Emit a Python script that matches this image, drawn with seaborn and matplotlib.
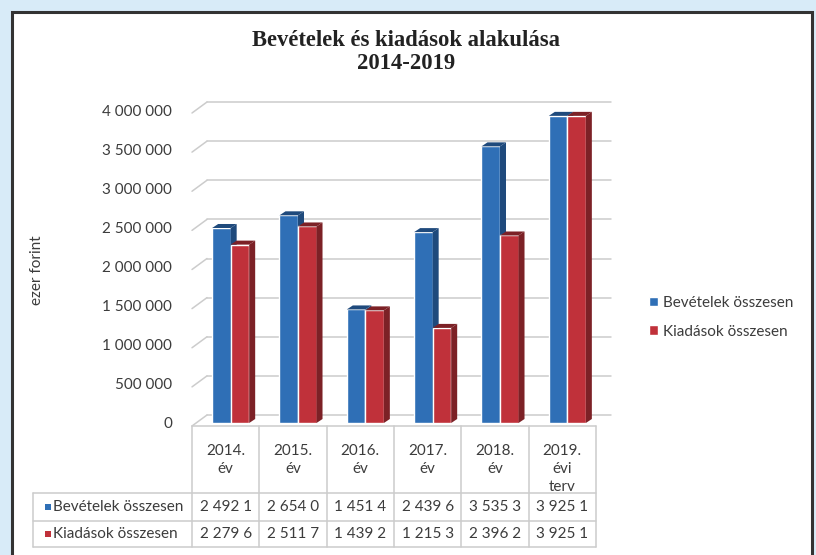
import seaborn as sns
import matplotlib.pyplot as plt
import matplotlib.transforms as mtransforms
from matplotlib.lines import Line2D
from matplotlib.patches import Rectangle, Polygon
import numpy as np
import pandas as pd

# adatok (ezer forint)
years = ["2014.\név", "2015.\név", "2016.\név", "2017.\név", "2018.\név", "2019.\névi\nterv"]
series = ["Bevételek összesen", "Kiadások összesen"]
bevetelek = [2492100, 2654000, 1451400, 2439600, 3535300, 3925100]
kiadasok = [2279600, 2511700, 1439200, 1215300, 2396200, 3925100]
yticks = [0, 500000, 1000000, 1500000, 2000000, 2500000, 3000000, 3500000, 4000000]

colors = ["#2f6fb6", "#c0313a"]
side_colors = ["#1f4a7c", "#7c2126"]
grid_c = "#cccccc"
text_c = "#3c3c3c"

df = pd.DataFrame({
    "ev": years * 2,
    "sorozat": [series[0]] * 6 + [series[1]] * 6,
    "ertek": bevetelek + kiadasok,
})

sns.set_theme(style="white")
plt.rcParams["font.family"] = ["Lato", "DejaVu Sans"]

W, H = 816, 555
fig = plt.figure(figsize=(W / 100, H / 100), dpi=100, facecolor="#d8ebf8")
ident = mtransforms.IdentityTransform()

# fehér keret
fig.add_artist(Rectangle((11.5 / W, -20 / H), 800 / W, (H - 11.5 + 20) / H,
                         transform=fig.transFigure, facecolor="white",
                         edgecolor="#333333", lw=2.2, zorder=0))

ax = fig.add_axes([197 / W, (H - 423) / H, 404 / W, 313 / H])
ax.set_facecolor("none")
sns.barplot(data=df, x="ev", y="ertek", hue="sorozat", palette=colors,
            width=0.55, saturation=1, ax=ax, zorder=2)
ax.set_xlim(-0.5, 5.5)
ax.set_ylim(0, 4000000)
ax.set_yticks(yticks)
ax.set_yticklabels([f"{v:,}".replace(",", " ") for v in yticks], fontsize=11, color=text_c)
ax.tick_params(axis="y", length=0, pad=18)
ax.set_xticks([])
ax.set_xlabel("")
ax.set_ylabel("")
sns.despine(ax=ax, left=True, bottom=True)
fig.canvas.draw()

back = ax.transData + mtransforms.Affine2D().translate(10, 8)
front_off = np.array([-5, -3])
back_off = np.array([10, 8])

# hátfal rácsvonalak + oldalfal átlók
for v in yticks:
    ax.plot([-0.5, 5.5], [v, v], transform=back, color=grid_c, lw=1.1,
            clip_on=False, zorder=0)
    p = ax.transData.transform((-0.5, v))
    a, b = p + front_off, p + back_off
    fig.add_artist(Line2D([a[0], b[0]], [a[1], b[1]], transform=ident,
                          color=grid_c, lw=1.1, zorder=1))

# 3D oszlop oldal és tető
dx, dy = 6, 4
n = len(years)
for i, patch in enumerate(ax.patches[:2 * n]):
    s = i // n
    patch.set_zorder(2 + 2 * s)
    x0, w, h = patch.get_x(), patch.get_width(), patch.get_height()
    bl = ax.transData.transform((x0, 0))
    tr = ax.transData.transform((x0 + w, h))
    side = [(tr[0], bl[1]), (tr[0], tr[1]), (tr[0] + dx, tr[1] + dy), (tr[0] + dx, bl[1] + dy)]
    top = [(bl[0], tr[1]), (tr[0], tr[1]), (tr[0] + dx, tr[1] + dy), (bl[0] + dx, tr[1] + dy)]
    for poly in (side, top):
        ax.add_artist(Polygon(poly, closed=True, transform=ident, facecolor=side_colors[s],
                              edgecolor="none", zorder=2.5 + 2 * s, clip_on=False))

# jelmagyarázat
sns.move_legend(ax, "upper left", bbox_to_anchor=(649 / W, 1 - 296 / H),
                bbox_transform=fig.transFigure, frameon=False, title=None,
                fontsize=11, handlelength=0.6, handleheight=0.6,
                handletextpad=0.3, labelspacing=0.95, borderpad=0, borderaxespad=0)
for t in ax.get_legend().get_texts():
    t.set_color(text_c)

# adattábla
edges = [ax.transData.transform((k - 0.5, 0))[0] + front_off[0] for k in range(n + 1)]
y_top, y_h, y_r1, y_r2 = 426, 493, 521, 547
left = 33

def hline(x0, x1, y):
    fig.add_artist(Line2D([x0, x1], [H - y, H - y], transform=ident, color=grid_c, lw=1.1))

def vline(x, y0, y1):
    fig.add_artist(Line2D([x, x], [H - y0, H - y1], transform=ident, color=grid_c, lw=1.1))

hline(edges[0], edges[-1], y_top)
for y in (y_h, y_r1, y_r2):
    hline(left, edges[-1], y)
for x in edges:
    vline(x, y_top, y_r2)
vline(left, y_h, y_r2)

for k, lab in enumerate(years):
    xc = (edges[k] + edges[k + 1]) / 2
    fig.text(xc / W, 1 - 444 / H, lab, ha="center", va="top", fontsize=11,
             color=text_c, linespacing=1.35)

rows = [bevetelek, kiadasok]
for r, (name, vals) in enumerate(zip(series, rows)):
    yc = (y_h + y_r1) / 2 if r == 0 else (y_r1 + y_r2) / 2
    fig.add_artist(Rectangle((45, H - yc - 3), 6, 6, transform=ident,
                             facecolor=colors[r], edgecolor="none"))
    fig.text(53 / W, 1 - yc / H, name, ha="left", va="center", fontsize=11, color=text_c)
    for k, v in enumerate(vals):
        xc = (edges[k] + edges[k + 1]) / 2
        fig.text(xc / W, 1 - yc / H, f"{v:,}".replace(",", " ")[:7], ha="center",
                 va="center", fontsize=11, color=text_c)

# tengelyfelirat, cím
fig.text(37 / W, 1 - 270 / H, "ezer forint", rotation=90, ha="center", va="center",
         fontsize=11, color=text_c)
fig.text(406 / W, 1 - 52 / H, "Bevételek és kiadások alakulása\n2014-2019", ha="center",
         va="center", fontsize=16.3, fontweight="bold", family="Liberation Serif",
         color="#222222", linespacing=1.1)

fig.savefig("out.png", dpi=100, facecolor=fig.get_facecolor())
